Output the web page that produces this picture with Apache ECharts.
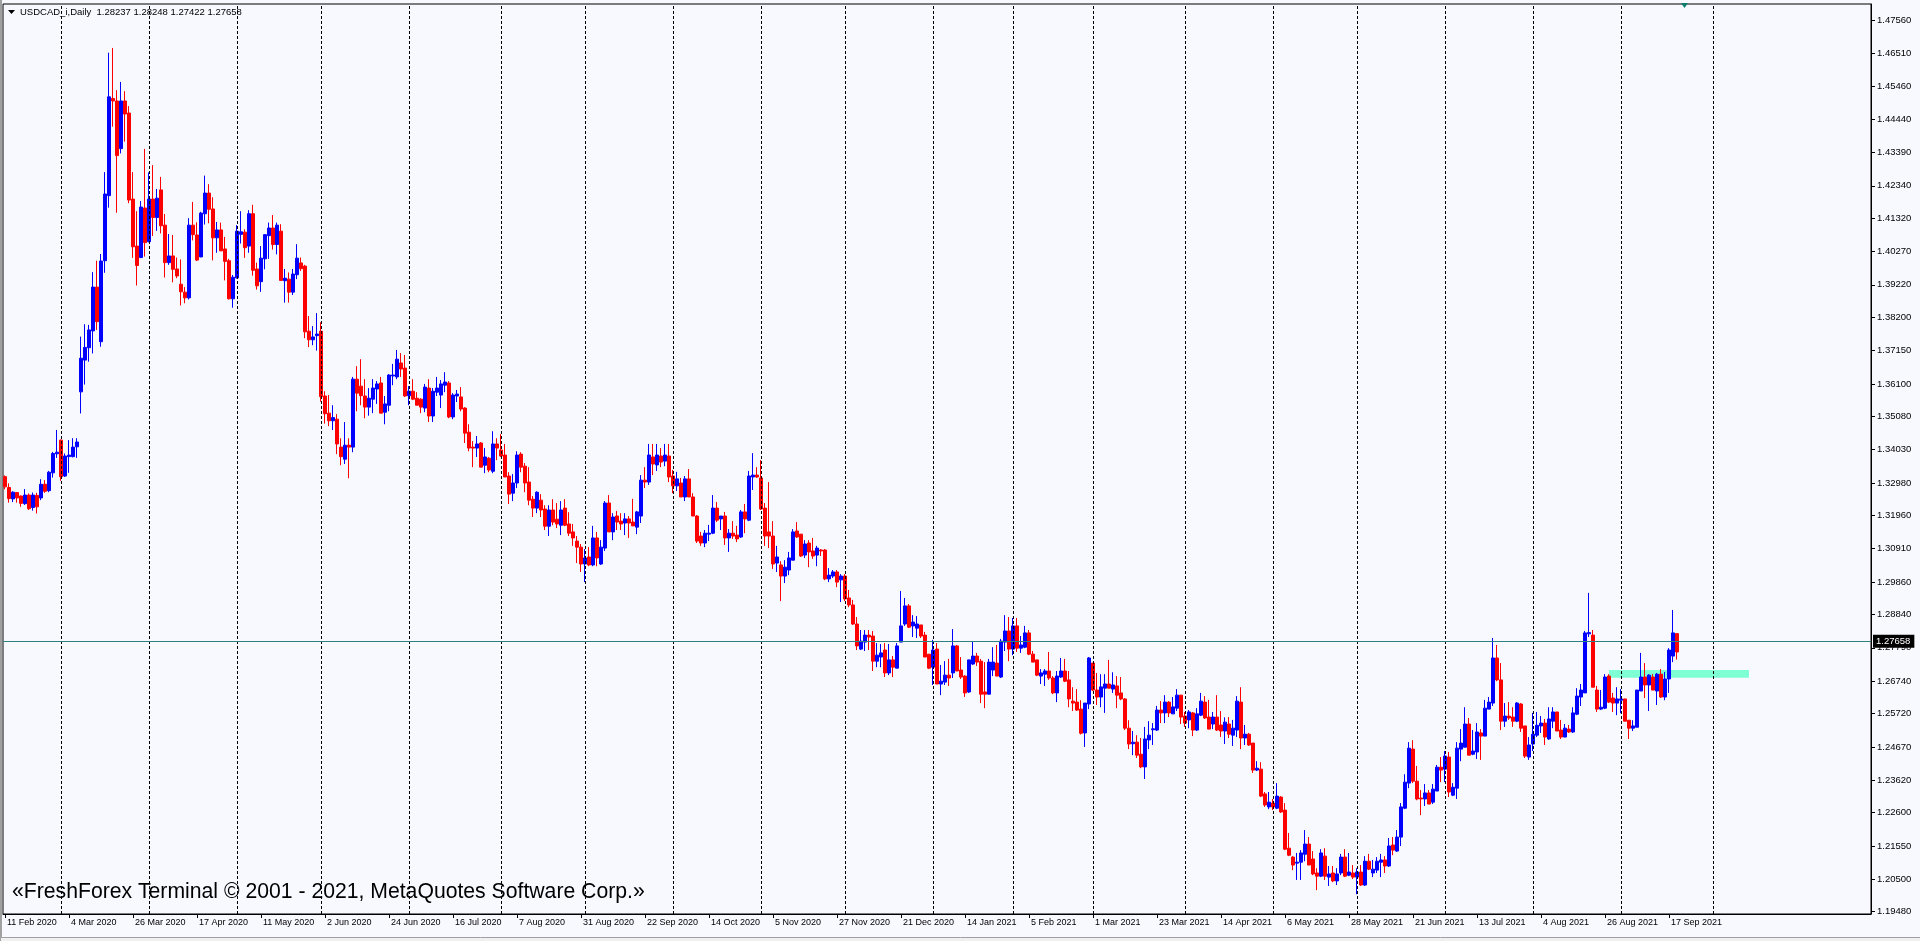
<!DOCTYPE html>
<html><head><meta charset="utf-8">
<script src="https://cdn.jsdelivr.net/npm/echarts@6/dist/echarts.min.js"></script>
<style>html,body{margin:0;padding:0;background:#F8F8FF;overflow:hidden}#c{width:1920px;height:941px}</style>
</head><body><div id="c"></div>
<script>
// ---- data ----
const symbolName = 'USDCAD_i,Daily';
const lastQuote = [1.28237, 1.28248, 1.27422, 1.27658]; // O H L C of last bar
const currentPrice = 1.27658;
const copyrightText = '«FreshForex Terminal © 2001 - 2021, MetaQuotes Software Corp.»';
const xTickLabels = ['11 Feb 2020','4 Mar 2020','26 Mar 2020','17 Apr 2020','11 May 2020','2 Jun 2020','24 Jun 2020','16 Jul 2020','7 Aug 2020','31 Aug 2020','22 Sep 2020','14 Oct 2020','5 Nov 2020','27 Nov 2020','21 Dec 2020','14 Jan 2021','5 Feb 2021','1 Mar 2021','23 Mar 2021','14 Apr 2021','6 May 2021','28 May 2021','21 Jun 2021','13 Jul 2021','4 Aug 2021','26 Aug 2021','17 Sep 2021'];
const xTickStep = 16; // bars between date labels
const yTickLabels = [1.47560,1.46510,1.45460,1.44440,1.43390,1.42340,1.41320,1.40270,1.39220,1.38200,1.37150,1.36100,1.35080,1.34030,1.32980,1.31960,1.30910,1.29860,1.28840,1.27790,1.26740,1.25720,1.24670,1.23620,1.22600,1.21550,1.20500,1.19480];
// bar index of the first trading day of each month (vertical grid)
const monthStarts = [14,36,58,79,101,124,145,167,189,210,232,252,272,295,317,338,360,382,404,427];
// rectangle object: from bar, to bar, upper price, lower price
const zoneBars = [401, 436];
const zonePrices = [1.2709, 1.2685];
// daily candles [open, high, low, close]
const candles = [
[1.3318,1.3322,1.3278,1.3286],[1.3284,1.3297,1.3236,1.3249],[1.3248,1.3272,1.3238,1.3269],[1.3268,1.3269,1.3236,1.3251],
[1.3257,1.3259,1.3223,1.3234],[1.3233,1.3279,1.3229,1.3260],[1.3260,1.3265,1.3213,1.3217],[1.3221,1.3268,1.3211,1.3260],
[1.3259,1.3267,1.3202,1.3223],[1.3251,1.3310,1.3244,1.3294],[1.3294,1.3307,1.3267,1.3272],[1.3274,1.3336,1.3269,1.3332],
[1.3330,1.3396,1.3315,1.3391],[1.3390,1.3465,1.3377,1.3395],[1.3433,1.3435,1.3305,1.3318],[1.3320,1.3391,1.3317,1.3383],
[1.3381,1.3433,1.3330,1.3386],[1.3381,1.3439,1.3379,1.3411],[1.3412,1.3439,1.3377,1.3427],[1.3585,1.3759,1.3517,1.3691],
[1.3685,1.3798,1.3608,1.3725],[1.3724,1.3796,1.3680,1.3780],[1.3777,1.3962,1.3706,1.3915],[1.3915,1.3998,1.3780,1.3806],
[1.3743,1.4019,1.3727,1.3997],[1.3998,1.4277,1.3960,1.4208],[1.4203,1.4653,1.4165,1.4514],[1.4509,1.4668,1.4420,1.4501],
[1.4501,1.4535,1.4149,1.4329],[1.4351,1.4561,1.4336,1.4501],[1.4501,1.4532,1.4373,1.4460],[1.4463,1.4485,1.4179,1.4189],
[1.4192,1.4277,1.4007,1.4042],[1.4044,1.4154,1.3920,1.3983],[1.4008,1.4186,1.4006,1.4167],[1.4164,1.4350,1.4011,1.4055],
[1.4058,1.4276,1.4056,1.4192],[1.4192,1.4299,1.4076,1.4134],[1.4134,1.4224,1.4092,1.4195],[1.4221,1.4262,1.4084,1.4108],
[1.4110,1.4145,1.3945,1.3992],[1.3992,1.4082,1.3985,1.4013],[1.4013,1.4079,1.3930,1.3971],[1.3972,1.4008,1.3943,1.3950],
[1.3924,1.4002,1.3857,1.3900],[1.3899,1.3915,1.3864,1.3881],[1.3881,1.4132,1.3876,1.4110],[1.4110,1.4183,1.4062,1.4080],
[1.4079,1.4119,1.3997,1.4000],[1.4010,1.4152,1.4009,1.4148],[1.4146,1.4266,1.4112,1.4211],[1.4211,1.4239,1.4116,1.4160],
[1.4161,1.4198,1.3999,1.4070],[1.4070,1.4120,1.4023,1.4095],[1.4095,1.4118,1.4029,1.4029],[1.4035,1.4073,1.3936,1.3996],
[1.3998,1.4004,1.3876,1.3878],[1.3878,1.3953,1.3850,1.3946],[1.3944,1.4110,1.3942,1.4091],[1.4081,1.4154,1.4052,1.4089],
[1.4088,1.4097,1.4007,1.4039],[1.4044,1.4157,1.4023,1.4146],[1.4146,1.4174,1.3951,1.3968],[1.3972,1.3992,1.3907,1.3919],
[1.3932,1.4044,1.3900,1.4006],[1.4004,1.4082,1.3971,1.4080],[1.4077,1.4118,1.4004,1.4101],[1.4101,1.4142,1.4033,1.4049],
[1.4049,1.4118,1.4018,1.4110],[1.4091,1.4113,1.3936,1.3936],[1.3935,1.3972,1.3866,1.3943],[1.3940,1.3961,1.3866,1.3899],
[1.3899,1.3972,1.3890,1.3956],[1.3954,1.4050,1.3940,1.4006],[1.3991,1.4008,1.3966,1.3973],[1.3981,1.3985,1.3754,1.3774],
[1.3776,1.3824,1.3726,1.3749],[1.3749,1.3792,1.3732,1.3758],[1.3762,1.3833,1.3715,1.3767],[1.3776,1.3804,1.3554,1.3570],
[1.3572,1.3587,1.3485,1.3516],[1.3518,1.3575,1.3477,1.3494],[1.3494,1.3543,1.3465,1.3504],[1.3499,1.3515,1.3389,1.3421],
[1.3411,1.3439,1.3354,1.3381],[1.3373,1.3490,1.3358,1.3417],[1.3417,1.3439,1.3313,1.3411],[1.3411,1.3632,1.3395,1.3625],
[1.3625,1.3666,1.3524,1.3581],[1.3603,1.3688,1.3543,1.3573],[1.3572,1.3625,1.3502,1.3537],[1.3537,1.3597,1.3510,1.3565],
[1.3562,1.3625,1.3518,1.3597],[1.3594,1.3619,1.3547,1.3610],[1.3613,1.3632,1.3518,1.3518],[1.3521,1.3572,1.3483,1.3547],
[1.3543,1.3641,1.3524,1.3638],[1.3635,1.3673,1.3606,1.3638],[1.3632,1.3717,1.3625,1.3688],[1.3676,1.3707,1.3632,1.3657],
[1.3660,1.3701,1.3569,1.3572],[1.3573,1.3603,1.3543,1.3587],[1.3587,1.3625,1.3559,1.3562],[1.3565,1.3584,1.3543,1.3543],
[1.3562,1.3565,1.3518,1.3537],[1.3534,1.3610,1.3521,1.3600],[1.3597,1.3625,1.3490,1.3509],[1.3509,1.3597,1.3490,1.3587],
[1.3584,1.3632,1.3572,1.3597],[1.3575,1.3622,1.3534,1.3610],[1.3606,1.3647,1.3584,1.3616],[1.3613,1.3619,1.3502,1.3506],
[1.3506,1.3581,1.3499,1.3575],[1.3572,1.3591,1.3553,1.3578],[1.3569,1.3600,1.3524,1.3531],[1.3534,1.3537,1.3424,1.3455],
[1.3458,1.3483,1.3398,1.3408],[1.3411,1.3430,1.3348,1.3408],[1.3408,1.3446,1.3380,1.3421],[1.3424,1.3427,1.3348,1.3348],
[1.3354,1.3408,1.3329,1.3380],[1.3376,1.3380,1.3332,1.3339],[1.3335,1.3461,1.3329,1.3421],[1.3421,1.3439,1.3370,1.3408],
[1.3402,1.3452,1.3380,1.3383],[1.3386,1.3421,1.3317,1.3317],[1.3320,1.3332,1.3232,1.3263],[1.3266,1.3326,1.3241,1.3298],
[1.3298,1.3398,1.3282,1.3386],[1.3389,1.3395,1.3332,1.3348],[1.3351,1.3361,1.3269,1.3298],[1.3301,1.3348,1.3228,1.3244],
[1.3247,1.3257,1.3191,1.3219],[1.3219,1.3272,1.3203,1.3269],[1.3244,1.3263,1.3191,1.3213],[1.3216,1.3228,1.3150,1.3162],
[1.3162,1.3228,1.3131,1.3213],[1.3213,1.3247,1.3165,1.3175],[1.3184,1.3235,1.3156,1.3169],[1.3165,1.3241,1.3134,1.3213],
[1.3219,1.3247,1.3162,1.3165],[1.3169,1.3206,1.3131,1.3140],[1.3144,1.3169,1.3100,1.3125],[1.3115,1.3131,1.3046,1.3096],
[1.3096,1.3106,1.3018,1.3043],[1.3043,1.3090,1.2986,1.3062],[1.3065,1.3096,1.3036,1.3040],[1.3040,1.3163,1.3036,1.3125],
[1.3125,1.3144,1.3036,1.3062],[1.3043,1.3118,1.3040,1.3096],[1.3093,1.3241,1.3084,1.3235],[1.3235,1.3260,1.3144,1.3144],
[1.3144,1.3203,1.3118,1.3191],[1.3194,1.3210,1.3150,1.3175],[1.3178,1.3203,1.3150,1.3169],[1.3172,1.3203,1.3134,1.3185],
[1.3185,1.3194,1.3125,1.3172],[1.3175,1.3248,1.3163,1.3163],[1.3159,1.3210,1.3137,1.3207],[1.3194,1.3323,1.3172,1.3307],
[1.3307,1.3348,1.3282,1.3301],[1.3301,1.3421,1.3292,1.3386],[1.3380,1.3421,1.3323,1.3358],[1.3355,1.3421,1.3336,1.3386],
[1.3383,1.3408,1.3348,1.3364],[1.3367,1.3421,1.3351,1.3386],[1.3383,1.3421,1.3301,1.3317],[1.3320,1.3339,1.3266,1.3289],
[1.3289,1.3333,1.3273,1.3311],[1.3298,1.3314,1.3254,1.3254],[1.3254,1.3320,1.3241,1.3311],[1.3311,1.3342,1.3254,1.3254],
[1.3254,1.3266,1.3194,1.3194],[1.3194,1.3197,1.3109,1.3115],[1.3131,1.3144,1.3100,1.3109],[1.3109,1.3150,1.3096,1.3140],
[1.3137,1.3166,1.3115,1.3140],[1.3140,1.3260,1.3137,1.3219],[1.3219,1.3238,1.3175,1.3181],[1.3185,1.3194,1.3150,1.3194],
[1.3194,1.3207,1.3103,1.3125],[1.3125,1.3153,1.3081,1.3140],[1.3140,1.3178,1.3122,1.3131],[1.3134,1.3163,1.3112,1.3122],
[1.3128,1.3213,1.3125,1.3207],[1.3207,1.3232,1.3140,1.3185],[1.3181,1.3336,1.3178,1.3320],[1.3317,1.3392,1.3276,1.3323],
[1.3323,1.3348,1.3314,1.3317],[1.3314,1.3370,1.3213,1.3216],[1.3219,1.3235,1.3100,1.3131],[1.3144,1.3301,1.3093,1.3131],
[1.3131,1.3178,1.3027,1.3043],[1.3046,1.3100,1.3018,1.3065],[1.3040,1.3052,1.2926,1.3005],[1.3005,1.3055,1.2983,1.3033],
[1.3024,1.3081,1.3008,1.3062],[1.3055,1.3153,1.3055,1.3144],[1.3147,1.3175,1.3125,1.3128],[1.3137,1.3137,1.3065,1.3068],
[1.3071,1.3118,1.3062,1.3106],[1.3109,1.3118,1.3033,1.3081],[1.3084,1.3125,1.3059,1.3068],[1.3071,1.3100,1.3036,1.3093],
[1.3087,1.3090,1.3068,1.3084],[1.3087,1.3090,1.2992,1.2996],[1.2996,1.3030,1.2986,1.3008],[1.3005,1.3024,1.2999,1.3018],
[1.3018,1.3024,1.2970,1.2986],[1.2993,1.3011,1.2923,1.3005],[1.3005,1.3011,1.2926,1.2933],[1.2936,1.2961,1.2907,1.2914],
[1.2914,1.2930,1.2851,1.2854],[1.2854,1.2876,1.2772,1.2785],[1.2775,1.2835,1.2772,1.2800],[1.2797,1.2835,1.2769,1.2819],
[1.2819,1.2835,1.2772,1.2813],[1.2816,1.2832,1.2706,1.2737],[1.2737,1.2794,1.2718,1.2756],[1.2750,1.2791,1.2718,1.2763],
[1.2772,1.2794,1.2687,1.2700],[1.2700,1.2791,1.2693,1.2741],[1.2741,1.2753,1.2687,1.2718],[1.2715,1.2794,1.2715,1.2785],
[1.2797,1.2958,1.2797,1.2848],[1.2854,1.2936,1.2848,1.2911],[1.2911,1.2917,1.2841,1.2844],[1.2848,1.2882,1.2813,1.2860],
[1.2841,1.2879,1.2810,1.2854],[1.2851,1.2851,1.2810,1.2816],[1.2819,1.2829,1.2750,1.2750],[1.2759,1.2759,1.2712,1.2715],
[1.2718,1.2804,1.2662,1.2772],[1.2775,1.2794,1.2665,1.2665],[1.2665,1.2725,1.2630,1.2674],[1.2671,1.2737,1.2662,1.2693],
[1.2693,1.2744,1.2659,1.2684],[1.2700,1.2838,1.2684,1.2785],[1.2785,1.2788,1.2706,1.2706],[1.2709,1.2750,1.2681,1.2687],
[1.2690,1.2693,1.2624,1.2637],[1.2640,1.2741,1.2637,1.2741],[1.2728,1.2800,1.2725,1.2753],[1.2753,1.2763,1.2722,1.2734],
[1.2737,1.2744,1.2605,1.2633],[1.2640,1.2734,1.2589,1.2633],[1.2633,1.2744,1.2633,1.2734],[1.2709,1.2781,1.2690,1.2734],
[1.2731,1.2788,1.2690,1.2690],[1.2687,1.2807,1.2684,1.2800],[1.2797,1.2882,1.2769,1.2832],[1.2832,1.2876,1.2737,1.2775],
[1.2775,1.2873,1.2756,1.2848],[1.2848,1.2873,1.2766,1.2778],[1.2778,1.2816,1.2763,1.2788],[1.2781,1.2848,1.2778,1.2826],
[1.2826,1.2835,1.2756,1.2759],[1.2759,1.2769,1.2734,1.2734],[1.2741,1.2741,1.2690,1.2693],[1.2690,1.2712,1.2665,1.2700],
[1.2696,1.2712,1.2659,1.2706],[1.2706,1.2766,1.2678,1.2684],[1.2684,1.2690,1.2633,1.2637],[1.2637,1.2706,1.2608,1.2690],
[1.2687,1.2747,1.2684,1.2706],[1.2706,1.2744,1.2671,1.2674],[1.2678,1.2706,1.2592,1.2618],[1.2611,1.2655,1.2580,1.2605],
[1.2608,1.2649,1.2580,1.2583],[1.2586,1.2614,1.2506,1.2510],[1.2511,1.2605,1.2467,1.2605],[1.2602,1.2750,1.2586,1.2747],
[1.2731,1.2731,1.2643,1.2646],[1.2646,1.2700,1.2599,1.2624],[1.2624,1.2696,1.2592,1.2656],[1.2652,1.2696,1.2574,1.2665],
[1.2665,1.2741,1.2652,1.2652],[1.2649,1.2702,1.2637,1.2662],[1.2659,1.2690,1.2589,1.2630],[1.2637,1.2687,1.2614,1.2618],
[1.2618,1.2621,1.2520,1.2526],[1.2526,1.2551,1.2460,1.2476],[1.2477,1.2517,1.2441,1.2482],[1.2482,1.2504,1.2432,1.2441],
[1.2444,1.2495,1.2400,1.2404],[1.2404,1.2530,1.2366,1.2492],[1.2489,1.2548,1.2460,1.2504],[1.2521,1.2542,1.2473,1.2524],
[1.2520,1.2596,1.2517,1.2583],[1.2583,1.2611,1.2542,1.2574],[1.2574,1.2630,1.2542,1.2608],[1.2608,1.2611,1.2561,1.2574],
[1.2571,1.2624,1.2571,1.2593],[1.2589,1.2649,1.2580,1.2630],[1.2630,1.2630,1.2539,1.2561],[1.2564,1.2577,1.2530,1.2542],
[1.2552,1.2583,1.2526,1.2577],[1.2574,1.2577,1.2501,1.2520],[1.2520,1.2589,1.2517,1.2571],[1.2567,1.2637,1.2564,1.2611],
[1.2608,1.2627,1.2555,1.2558],[1.2561,1.2615,1.2523,1.2523],[1.2539,1.2577,1.2523,1.2561],[1.2561,1.2630,1.2517,1.2520],
[1.2536,1.2580,1.2498,1.2517],[1.2517,1.2560,1.2476,1.2545],[1.2539,1.2561,1.2495,1.2507],[1.2504,1.2552,1.2470,1.2526],
[1.2520,1.2627,1.2498,1.2611],[1.2608,1.2655,1.2460,1.2495],[1.2495,1.2536,1.2473,1.2507],[1.2507,1.2511,1.2470,1.2473],
[1.2479,1.2479,1.2385,1.2394],[1.2394,1.2422,1.2391,1.2400],[1.2397,1.2419,1.2309,1.2312],[1.2319,1.2325,1.2278,1.2284],
[1.2278,1.2325,1.2271,1.2293],[1.2290,1.2303,1.2268,1.2278],[1.2274,1.2353,1.2271,1.2312],[1.2309,1.2312,1.2259,1.2262],
[1.2268,1.2290,1.2142,1.2145],[1.2148,1.2196,1.2123,1.2126],[1.2120,1.2123,1.2079,1.2095],[1.2101,1.2133,1.2048,1.2104],
[1.2104,1.2142,1.2048,1.2133],[1.2129,1.2205,1.2107,1.2161],[1.2161,1.2183,1.2095,1.2095],[1.2114,1.2139,1.2063,1.2067],
[1.2070,1.2085,1.2016,1.2060],[1.2060,1.2145,1.2057,1.2133],[1.2123,1.2148,1.2048,1.2060],[1.2057,1.2092,1.2029,1.2067],
[1.2070,1.2092,1.2041,1.2045],[1.2045,1.2085,1.2032,1.2067],[1.2070,1.2130,1.2063,1.2120],[1.2120,1.2145,1.2057,1.2060],
[1.2063,1.2133,1.2060,1.2073],[1.2070,1.2095,1.2051,1.2057],[1.2057,1.2085,1.2003,1.2073],[1.2073,1.2095,1.2029,1.2032],
[1.2032,1.2123,1.2029,1.2107],[1.2107,1.2130,1.2079,1.2082],[1.2070,1.2111,1.2057,1.2082],[1.2079,1.2120,1.2070,1.2107],
[1.2104,1.2130,1.2057,1.2111],[1.2111,1.2123,1.2070,1.2092],[1.2092,1.2180,1.2089,1.2155],[1.2158,1.2183,1.2126,1.2142],
[1.2139,1.2205,1.2136,1.2183],[1.2183,1.2290,1.2155,1.2278],[1.2274,1.2381,1.2271,1.2356],[1.2353,1.2482,1.2337,1.2463],
[1.2460,1.2488,1.2353,1.2359],[1.2359,1.2407,1.2299,1.2303],[1.2306,1.2331,1.2252,1.2303],[1.2303,1.2350,1.2281,1.2322],
[1.2322,1.2331,1.2287,1.2287],[1.2293,1.2350,1.2287,1.2334],[1.2328,1.2410,1.2328,1.2403],[1.2403,1.2435,1.2356,1.2394],
[1.2397,1.2454,1.2356,1.2438],[1.2435,1.2451,1.2309,1.2325],[1.2315,1.2353,1.2312,1.2340],[1.2337,1.2482,1.2303,1.2463],
[1.2460,1.2523,1.2422,1.2479],[1.2466,1.2592,1.2466,1.2539],[1.2539,1.2558,1.2441,1.2441],[1.2444,1.2520,1.2441,1.2454],
[1.2451,1.2542,1.2429,1.2514],[1.2511,1.2523,1.2426,1.2501],[1.2501,1.2615,1.2501,1.2589],[1.2586,1.2624,1.2586,1.2608],
[1.2605,1.2810,1.2596,1.2747],[1.2747,1.2788,1.2674,1.2678],[1.2678,1.2731,1.2520,1.2548],[1.2548,1.2605,1.2530,1.2564],
[1.2564,1.2608,1.2552,1.2558],[1.2561,1.2592,1.2530,1.2548],[1.2548,1.2608,1.2545,1.2605],[1.2602,1.2605,1.2514,1.2526],
[1.2533,1.2533,1.2432,1.2438],[1.2435,1.2498,1.2426,1.2473],[1.2476,1.2574,1.2454,1.2507],[1.2504,1.2577,1.2498,1.2535],
[1.2533,1.2564,1.2511,1.2542],[1.2542,1.2555,1.2473,1.2498],[1.2492,1.2592,1.2489,1.2555],[1.2548,1.2592,1.2526,1.2577],
[1.2577,1.2577,1.2517,1.2517],[1.2520,1.2552,1.2492,1.2498],[1.2498,1.2539,1.2498,1.2526],[1.2523,1.2536,1.2511,1.2514],
[1.2514,1.2592,1.2511,1.2574],[1.2570,1.2652,1.2567,1.2627],[1.2624,1.2665,1.2596,1.2646],[1.2637,1.2832,1.2637,1.2826],
[1.2823,1.2952,1.2813,1.2827],[1.2819,1.2835,1.2655,1.2655],[1.2646,1.2659,1.2577,1.2586],[1.2586,1.2646,1.2583,1.2592],
[1.2589,1.2696,1.2586,1.2687],[1.2690,1.2696,1.2605,1.2608],[1.2621,1.2637,1.2577,1.2605],[1.2605,1.2655,1.2567,1.2618],
[1.2614,1.2649,1.2573,1.2618],[1.2618,1.2618,1.2548,1.2548],[1.2551,1.2551,1.2492,1.2526],[1.2526,1.2551,1.2517,1.2533],
[1.2529,1.2646,1.2529,1.2646],[1.2643,1.2763,1.2643,1.2687],[1.2687,1.2731,1.2621,1.2662],[1.2662,1.2696,1.2580,1.2693],
[1.2687,1.2696,1.2646,1.2646],[1.2643,1.2700,1.2599,1.2696],[1.2696,1.2712,1.2621,1.2624],[1.2624,1.2703,1.2614,1.2681],
[1.2681,1.2778,1.2637,1.2772],[1.2753,1.2898,1.2734,1.2826],[1.28237,1.28248,1.27422,1.27658]
];

// ---- build ----
const SLOTS = 467; // visible bar slots incl. empty right shift
const cats = [];
for (let i = 0; i < SLOTS; i++) cats.push(String(i));
const seriesData = candles.map(c => [c[0], c[3], c[2], c[1]]);
const yMin = 1.19408, yMax = 1.48064;
const FONT = '"Liberation Sans", Arial, sans-serif';
const showTick = (idx) => idx % xTickStep === 0 && idx / xTickStep < xTickLabels.length;

const chart = echarts.init(document.getElementById('c'), null, {renderer: 'canvas'});
chart.setOption({
  animation: false,
  backgroundColor: '#F8F8FF',
  textStyle: {fontFamily: FONT},
  grid: {left: 3, right: 49, top: 4, bottom: 27, show: true, borderColor: '#000', borderWidth: 1, backgroundColor: 'transparent'},
  xAxis: {
    type: 'category', data: cats, boundaryGap: true,
    axisLine: {show: true, lineStyle: {color: '#000', width: 1}},
    axisTick: {show: true, alignWithLabel: true, interval: showTick, length: 4, lineStyle: {color: '#000'}},
    axisLabel: {interval: showTick, align: 'left', margin: 4, padding: [0, 0, 0, 2], fontSize: 9, color: '#000', fontFamily: FONT,
      formatter: (v, idx) => xTickLabels[idx / xTickStep] || ''},
    splitLine: {show: false}
  },
  yAxis: {
    type: 'value', position: 'right', min: yMin, max: yMax, scale: true,
    axisLine: {show: true, lineStyle: {color: '#000', width: 1}},
    axisTick: {show: true, length: 4, lineStyle: {color: '#000'}, customValues: yTickLabels},
    axisLabel: {customValues: yTickLabels, margin: 6, fontSize: 9.5, color: '#000', fontFamily: FONT, formatter: v => v.toFixed(5)},
    splitLine: {show: false}
  },
  graphic: [
    {type: 'rect', left: 0, top: 0, shape: {width: 2, height: 941}, style: {fill: '#A0A0A0'}, silent: true},
    {type: 'rect', left: 0, top: 937, shape: {width: 1920, height: 4}, style: {fill: '#F0F0F0', stroke: '#A0A0A0', lineWidth: 1}, silent: true},
    {type: 'polygon', shape: {points: [[8, 10], [15, 10], [11.5, 14]]}, style: {fill: '#000'}, silent: true},
    {type: 'polygon', shape: {points: [[1681, 3], [1688, 3], [1684.5, 8]]}, style: {fill: '#0E7C6B'}, silent: true},
    {type: 'text', left: 20, top: 7, style: {text: symbolName + '  ' + lastQuote.map(v => v.toFixed(5)).join(' '), fontSize: 9.5, fontFamily: FONT, fill: '#000'}, silent: true},
    {type: 'text', left: 12, top: 882, style: {text: copyrightText, fontSize: 21.2, fontFamily: FONT, fill: '#000'}, silent: true}
  ],
  series: [
    {
      type: 'line', data: [], z: 1, silent: true,
      markLine: {
        silent: true, symbol: ['none', 'none'], animation: false,
        label: {show: false},
        lineStyle: {color: '#000', width: 1, type: [3, 2]},
        data: monthStarts.map(i => ({xAxis: String(i)}))
      },
      markArea: {
        silent: true,
        itemStyle: {color: '#7FFFD4', opacity: 1},
        data: [[{xAxis: String(zoneBars[0]), yAxis: zonePrices[0]}, {xAxis: String(zoneBars[1]), yAxis: zonePrices[1]}]]
      }
    },
    {
      type: 'candlestick', data: seriesData, z: 3, barWidth: 3, clip: true,
      itemStyle: {color: '#0000FF', color0: '#FF0000', borderColor: '#0000FF', borderColor0: '#FF0000', borderWidth: 1},
      markLine: {
        silent: true, symbol: ['none', 'none'], animation: false,
        lineStyle: {color: '#2F8080', width: 1, type: 'solid'},
        label: {show: true, position: 'end', distance: 2, formatter: () => currentPrice.toFixed(5), color: '#fff', backgroundColor: '#000', padding: [2, 4, 1, 3], fontSize: 9.5, fontFamily: FONT},
        data: [{yAxis: currentPrice}]
      }
    }
  ]
});
</script></body></html>
